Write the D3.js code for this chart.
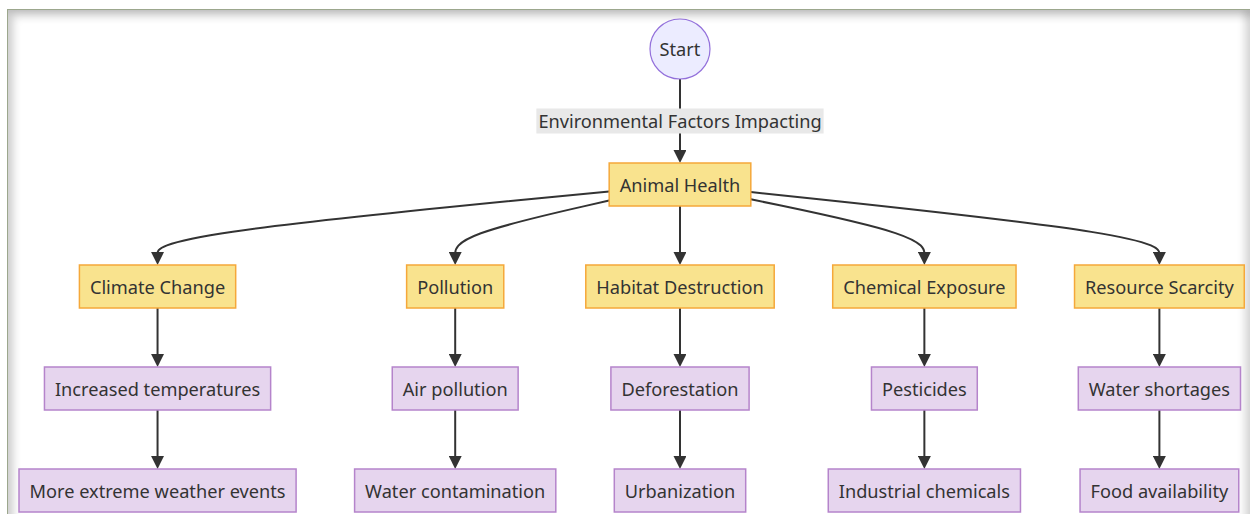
<!DOCTYPE html>
<html>
<head>
<meta charset="utf-8">
<script src="https://cdn.jsdelivr.net/npm/d3@7"></script>
<style>
  html, body { margin: 0; padding: 0; background: #fff; overflow: hidden; }
  #frame {
    position: absolute; left: 7px; top: 9px; width: 1243px; height: 530px;
    box-sizing: border-box;
    border-top: 1.5px solid #9ca78d; border-left: 1.5px solid #9ca78d;
    box-shadow: inset 5px 6px 8px rgba(0,0,0,0.2), inset -6px 0 7px rgba(0,0,0,0.14);
  }
  #chart { position: absolute; left: 0; top: 0; }
</style>
</head>
<body>
<div id="frame"></div>
<div id="chart"></div>
<script>
// data
const startLabel = "Start";
const edgeLabel = "Environmental Factors Impacting";
const rootLabel = "Animal Health";
const factors = ["Climate Change", "Pollution", "Habitat Destruction", "Chemical Exposure", "Resource Scarcity"];
const firstEffects = ["Increased temperatures", "Air pollution", "Deforestation", "Pesticides", "Water shortages"];
const secondEffects = ["More extreme weather events", "Water contamination", "Urbanization", "Industrial chemicals", "Food availability"];

// layout / style
const width = 1250, height = 514;
const font = "18.2px 'Noto Sans', 'Open Sans', sans-serif";
const padX = 10.5, boxH = 43, nodeSep = 58.5, leftMargin = 19;
const startR = 30;
const yellow = { fill: "#f9e38e", stroke: "#f5a83a" };
const purple = { fill: "#e6d5ee", stroke: "#b584cb" };

const svg = d3.select("#chart").append("svg")
    .attr("width", width)
    .attr("height", height);

// measure text
const meas = svg.append("text").style("font", font).attr("opacity", 0);
function textW(s) { meas.text(s); return meas.node().getComputedTextLength(); }

const ranks = [factors, firstEffects, secondEffects];
const widths = ranks.map(r => r.map(s => textW(s) + 2 * padX));

// column spacing like dagre: each rank keeps nodeSep between neighbours
const colX = [0];
for (let i = 1; i < factors.length; i++) {
    const need = d3.max(widths, w => (w[i - 1] + w[i]) / 2) + nodeSep;
    colX.push(colX[i - 1] + need);
}
const shift = leftMargin + d3.max(widths, w => w[0]) / 2;
const x = d3.scaleOrdinal(factors, colX.map(v => v + shift));
const midX = x(factors[Math.floor(factors.length / 2)]);

// levels: 0 = Animal Health, 1..3 = factor chain
const y = d3.scaleLinear().domain([0, 3]).range([184.5, 490.5]);
const startY = 49;

// ------------------
// markers
// ------------------
svg.append("defs").append("marker")
    .attr("id", "arrow")
    .attr("viewBox", "0 0 10 10")
    .attr("refX", 4)
    .attr("refY", 5)
    .attr("markerUnits", "userSpaceOnUse")
    .attr("markerWidth", 13)
    .attr("markerHeight", 13)
    .attr("orient", "auto")
    .append("path")
    .attr("d", "M0,0 L10,5 L0,10 z")
    .attr("fill", "#333");
const tipGap = 7.8;

const line = d3.line().curve(d3.curveBasis);
function edge(points) {
    svg.append("path")
        .attr("d", line(points))
        .attr("fill", "none")
        .attr("stroke", "#333")
        .attr("stroke-width", 2)
        .attr("marker-end", "url(#arrow)");
}

// ------------------
// edges
// ------------------
const rootW = textW(rootLabel) + 2 * padX;
const rootY = y(0);

// start -> root
edge([[midX, startY + startR], [midX, (startY + startR + rootY - boxH / 2) / 2], [midX, rootY - boxH / 2 - tipGap]]);

// root -> factors
factors.forEach(f => {
    const tx = x(f);
    const top = y(1) - boxH / 2;
    const bend = [tx, (rootY + boxH / 2 + top) / 2];
    const dx = bend[0] - midX, dy = bend[1] - rootY;
    let t;
    if (Math.abs(dx) * (boxH / 2) > Math.abs(dy) * (rootW / 2)) t = (rootW / 2) / Math.abs(dx);
    else t = (boxH / 2) / Math.abs(dy);
    edge([[midX + dx * t, rootY + dy * t], bend, [tx, top - tipGap]]);
});

// chains
factors.forEach(f => {
    const cx = x(f);
    for (let lv = 1; lv < 3; lv++) {
        const a = y(lv) + boxH / 2, b = y(lv + 1) - boxH / 2;
        edge([[cx, a], [cx, (a + b) / 2], [cx, b - tipGap]]);
    }
});

// edge label
const lblW = textW(edgeLabel) + 4;
const lblY = (startY + startR + rootY - boxH / 2) / 2;
svg.append("rect")
    .attr("x", midX - lblW / 2)
    .attr("y", lblY - 12.5)
    .attr("width", lblW)
    .attr("height", 25)
    .attr("fill", "#e8e8e8");
svg.append("text")
    .attr("x", midX)
    .attr("y", lblY)
    .attr("text-anchor", "middle")
    .attr("dominant-baseline", "central")
    .attr("fill", "#333")
    .style("font", font)
    .text(edgeLabel);

// ------------------
// nodes
// ------------------
svg.append("circle")
    .attr("cx", midX)
    .attr("cy", startY)
    .attr("r", startR)
    .attr("fill", "#ececff")
    .attr("stroke", "#9370db")
    .attr("stroke-width", 1.2);
svg.append("text")
    .attr("x", midX)
    .attr("y", startY)
    .attr("text-anchor", "middle")
    .attr("dominant-baseline", "central")
    .attr("fill", "#333")
    .style("font", font)
    .text(startLabel);

function box(label, cx, cy, col) {
    const w = textW(label) + 2 * padX;
    svg.append("rect")
        .attr("x", cx - w / 2)
        .attr("y", cy - boxH / 2)
        .attr("width", w)
        .attr("height", boxH)
        .attr("fill", col.fill)
        .attr("stroke", col.stroke)
        .attr("stroke-width", 1.5);
    svg.append("text")
        .attr("x", cx)
        .attr("y", cy)
        .attr("text-anchor", "middle")
        .attr("dominant-baseline", "central")
        .attr("fill", "#333")
        .style("font", font)
        .text(label);
}

box(rootLabel, midX, rootY, yellow);
factors.forEach((f, i) => {
    box(f, x(f), y(1), yellow);
    box(firstEffects[i], x(f), y(2), purple);
    box(secondEffects[i], x(f), y(3), purple);
});
</script>
</body>
</html>
